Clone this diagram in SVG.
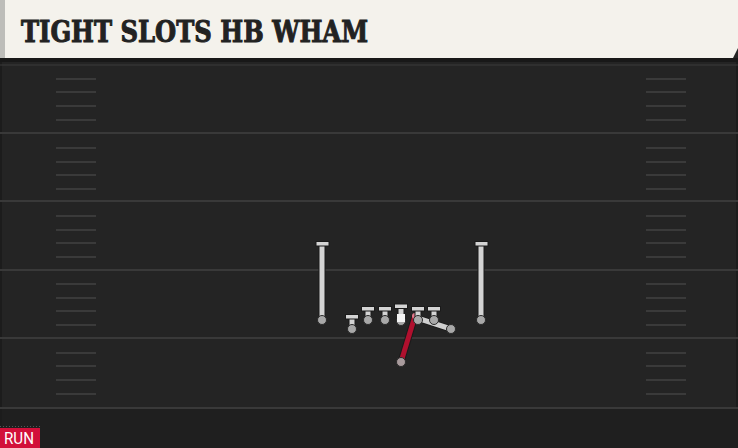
<svg xmlns="http://www.w3.org/2000/svg" width="738" height="448" viewBox="0 0 738 448">
<defs>
<style>
.yard{stroke:#393939;stroke-width:2}
.hash{stroke:#3a3a3a;stroke-width:2}
.stem{stroke:#1a1a1a;stroke-width:7;stroke-linecap:butt}
.stemi{stroke:#d4d4d4;stroke-width:5}
.bar{fill:#d4d4d4;stroke:#1a1a1a;stroke-width:1}
.foot{fill:#a8a8a8;stroke:#2a2a2a;stroke-width:1}
.title{font-family:"DejaVu Serif","Liberation Serif",serif;font-weight:bold;font-size:29px;fill:#222;stroke:#222;stroke-width:1}
.tag{font-family:Roboto,"Liberation Sans",sans-serif;font-size:16px;fill:#fff}
</style>
</defs>
<rect x="0" y="0" width="738" height="448" fill="#242424"/>
<rect x="0" y="408" width="738" height="40" fill="#1f1f1f"/>
<rect x="0" y="58" width="738" height="4" fill="#181818"/>
<rect x="0" y="62" width="2" height="386" fill="#1c1c1c"/>
<rect x="736" y="62" width="2" height="346" fill="#1c1c1c"/>
<g id="field">
<line class="yard" x1="0" y1="65" x2="738" y2="65" stroke-opacity="0.5"/>
<line class="yard" x1="0" y1="133" x2="738" y2="133"/>
<line class="yard" x1="0" y1="201" x2="738" y2="201"/>
<line class="yard" x1="0" y1="270" x2="738" y2="270"/>
<line class="yard" x1="0" y1="338" x2="738" y2="338"/>
<line class="yard" x1="0" y1="408" x2="738" y2="408"/>
<g class="hash">
<line x1="56" y1="79" x2="96" y2="79"/><line x1="56" y1="92" x2="96" y2="92"/><line x1="56" y1="106" x2="96" y2="106"/><line x1="56" y1="120" x2="96" y2="120"/>
<line x1="56" y1="148" x2="96" y2="148"/><line x1="56" y1="162" x2="96" y2="162"/><line x1="56" y1="175" x2="96" y2="175"/><line x1="56" y1="189" x2="96" y2="189"/>
<line x1="56" y1="216" x2="96" y2="216"/><line x1="56" y1="230" x2="96" y2="230"/><line x1="56" y1="243" x2="96" y2="243"/><line x1="56" y1="257" x2="96" y2="257"/>
<line x1="56" y1="284" x2="96" y2="284"/><line x1="56" y1="298" x2="96" y2="298"/><line x1="56" y1="311" x2="96" y2="311"/><line x1="56" y1="325" x2="96" y2="325"/>
<line x1="56" y1="353" x2="96" y2="353"/><line x1="56" y1="366" x2="96" y2="366"/><line x1="56" y1="380" x2="96" y2="380"/><line x1="56" y1="394" x2="96" y2="394"/>
<line x1="646" y1="79" x2="686" y2="79"/><line x1="646" y1="92" x2="686" y2="92"/><line x1="646" y1="106" x2="686" y2="106"/><line x1="646" y1="120" x2="686" y2="120"/>
<line x1="646" y1="148" x2="686" y2="148"/><line x1="646" y1="162" x2="686" y2="162"/><line x1="646" y1="175" x2="686" y2="175"/><line x1="646" y1="189" x2="686" y2="189"/>
<line x1="646" y1="216" x2="686" y2="216"/><line x1="646" y1="230" x2="686" y2="230"/><line x1="646" y1="243" x2="686" y2="243"/><line x1="646" y1="257" x2="686" y2="257"/>
<line x1="646" y1="284" x2="686" y2="284"/><line x1="646" y1="298" x2="686" y2="298"/><line x1="646" y1="311" x2="686" y2="311"/><line x1="646" y1="325" x2="686" y2="325"/>
<line x1="646" y1="353" x2="686" y2="353"/><line x1="646" y1="366" x2="686" y2="366"/><line x1="646" y1="380" x2="686" y2="380"/><line x1="646" y1="394" x2="686" y2="394"/>
</g>
</g>
<g id="header">
<path d="M0 0 H738 V48 L733 58 H0 Z" fill="#f4f2ec"/>
<rect x="0" y="0" width="5" height="58" fill="#bdbdb9"/>
<text class="title" x="21" y="42" textLength="347" lengthAdjust="spacingAndGlyphs">TIGHT SLOTS HB WHAM</text>
</g>
<g id="connectors">
<line x1="414" y1="317" x2="451" y2="329" stroke="#1a1a1a" stroke-width="7"/>
<line x1="414" y1="317" x2="451" y2="329" stroke="#cfcfcf" stroke-width="5"/>
<circle cx="451" cy="329" r="4.5" class="foot"/>
<line x1="401" y1="362" x2="415" y2="316" stroke="#1a1a1a" stroke-width="7"/>
<line x1="401" y1="362" x2="415" y2="316" stroke="#b0102e" stroke-width="5"/>
<circle cx="415" cy="316" r="3" fill="#e37a8c"/>
</g>
<g id="wr-left">
<line class="stem" x1="322" y1="243" x2="322" y2="320"/><line class="stemi" x1="322" y1="243" x2="322" y2="320"/>
<rect class="bar" x="316" y="241.5" width="13" height="4.5"/>
<circle class="foot" cx="322" cy="320" r="4.5"/>
</g>
<g id="wr-right">
<line class="stem" x1="481" y1="243" x2="481" y2="320"/><line class="stemi" x1="481" y1="243" x2="481" y2="320"/>
<rect class="bar" x="475" y="241.5" width="13" height="4.5"/>
<circle class="foot" cx="481" cy="320" r="4.5"/>
</g>
<g id="te">
<line class="stem" x1="352" y1="317" x2="352" y2="329"/><line class="stemi" x1="352" y1="317" x2="352" y2="329"/>
<rect class="bar" x="345.5" y="314.5" width="13" height="4.5"/>
<circle class="foot" cx="352" cy="329" r="4.5"/>
</g>
<g id="lt">
<line class="stem" x1="368" y1="309" x2="368" y2="320"/><line class="stemi" x1="368" y1="309" x2="368" y2="320"/>
<rect class="bar" x="361.5" y="306.5" width="13" height="4.5"/>
<circle class="foot" cx="368" cy="320" r="4.5"/>
</g>
<g id="lg">
<line class="stem" x1="385" y1="309" x2="385" y2="320"/><line class="stemi" x1="385" y1="309" x2="385" y2="320"/>
<rect class="bar" x="378.5" y="306.5" width="13" height="4.5"/>
<circle class="foot" cx="385" cy="320" r="4.5"/>
</g>
<g id="c">
<line class="stem" x1="401" y1="307" x2="401" y2="320"/><line class="stemi" x1="401" y1="307" x2="401" y2="320"/>
<rect class="bar" x="394.5" y="304" width="13" height="4.5"/>
<circle class="foot" cx="401" cy="321" r="4.5"/>
<rect x="397" y="314" width="8" height="8" fill="#f4f4f4"/>
</g>
<g id="rg">
<line class="stem" x1="418" y1="309" x2="418" y2="320"/><line class="stemi" x1="418" y1="309" x2="418" y2="320"/>
<rect class="bar" x="411.5" y="306.5" width="13" height="4.5"/>
<circle class="foot" cx="418" cy="320" r="4.5"/>
</g>
<g id="rt">
<line class="stem" x1="434" y1="309" x2="434" y2="320"/><line class="stemi" x1="434" y1="309" x2="434" y2="320"/>
<rect class="bar" x="427.5" y="306.5" width="13" height="4.5"/>
<circle class="foot" cx="434" cy="320" r="4.5"/>
</g>
<g id="hb">
<circle cx="401" cy="362" r="4.5" fill="#a89a9c" stroke="#2a2a2a" stroke-width="1"/>
</g>
<g id="tag">
<line x1="0" y1="426.5" x2="40" y2="426.5" stroke="#555" stroke-width="1" stroke-dasharray="1,2"/>
<rect x="0" y="428" width="40" height="20" fill="#d2103a"/>
<text class="tag" x="4" y="444" textLength="30" lengthAdjust="spacingAndGlyphs">RUN</text>
</g>
</svg>
